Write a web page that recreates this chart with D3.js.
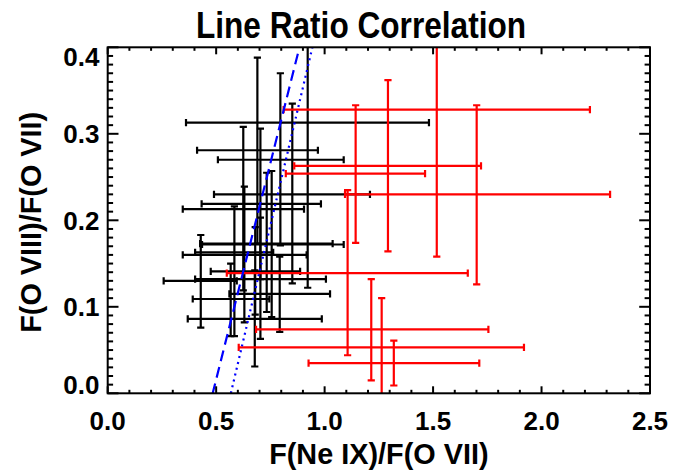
<!DOCTYPE html>
<html><head><meta charset="utf-8">
<script src="https://cdn.jsdelivr.net/npm/d3@7"></script>
<style>body{margin:0;background:#fff}svg{display:block}</style>
</head><body>
<svg id="c" width="689" height="472"></svg>
<script>
// ---------------- data ----------------
const chartTitle = "Line Ratio Correlation";
const xTitle = "F(Ne IX)/F(O VII)";
const yTitle = "F(O VIII)/F(O VII)";
const xTickValues = [0.0, 0.5, 1.0, 1.5, 2.0, 2.5];
const xTickLabels = ["0.0", "0.5", "1.0", "1.5", "2.0", "2.5"];
const yTickValues = [0.0, 0.1, 0.2, 0.3, 0.4];
const yTickLabels = ["0.0", "0.1", "0.2", "0.3", "0.4"];

// black sample: centre, lower and upper error limits
const blackX   = [0.922, 0.690, 0.796, 0.851, 0.704, 0.625, 0.733, 0.756, 0.584, 0.630, 0.680, 0.704, 0.429, 0.793, 0.567, 0.678];
const blackXLo = [0.361, 0.412, 0.508, 0.490, 0.433, 0.346, 0.426, 0.435, 0.403, 0.346, 0.475, 0.403, 0.258, 0.561, 0.392, 0.369];
const blackXHi = [1.481, 0.969, 1.088, 1.209, 0.983, 0.905, 1.037, 1.088, 0.763, 0.917, 0.887, 1.006, 0.595, 1.025, 0.745, 0.987];
const blackY   = [0.313, 0.281, 0.270, 0.230, 0.219, 0.213, 0.173, 0.172, 0.163, 0.160, 0.141, 0.132, 0.130, 0.115, 0.109, 0.086];
const blackYLo = [0.122, 0.173, 0.171, 0.127, 0.132, 0.119, 0.094, 0.088, 0.066, 0.082, 0.091, 0.063, 0.076, 0.071, 0.066, 0.031];
const blackYHi = [0.504, 0.388, 0.370, 0.335, 0.306, 0.308, 0.255, 0.257, 0.216, 0.239, 0.192, 0.203, 0.183, 0.158, 0.150, 0.142];

// red sample
const redX   = [1.517, 1.292, 1.143, 1.701, 1.106, 1.215, 1.263, 1.319];
const redXLo = [0.811, 0.860, 0.821, 1.094, 0.549, 0.684, 0.604, 0.926];
const redXHi = [2.223, 1.721, 1.463, 2.316, 1.660, 1.755, 1.919, 1.713];
const redY   = [0.328, 0.263, 0.254, 0.230, 0.139, 0.074, 0.053, 0.035];
const redYLo = [0.158, 0.164, 0.174, 0.126, 0.044, 0.015, -0.005, 0.009];
const redYHi = [0.497, 0.362, 0.333, 0.333, 0.235, 0.132, 0.110, 0.061];

// fitted relations y = slope * x + intercept
const dashedFit = {slope: 1.000, intercept: -0.484};
const dottedFit = {slope: 1.064, intercept: -0.604};

// ---------------- drawing ----------------
const W = 689, H = 472;
const L = 107.7, R = 650, T = 47.3, B = 393.3;
const svg = d3.select("#c");
const FONT = "'Liberation Sans', Arial, Helvetica, sans-serif";

const x = d3.scaleLinear().domain([0, 2.5]).range([L, R]);
const y = d3.scaleLinear().domain([0, 0.4]).range([B, T]);

svg.append("rect").attr("width", W).attr("height", H).attr("fill", "#fff");

svg.append("defs").append("clipPath").attr("id", "clip")
  .append("rect").attr("x", L).attr("y", T).attr("width", R - L).attr("height", B - T);

const plot = svg.append("g").attr("clip-path", "url(#clip)");

function errorBars(xs, xlo, xhi, ys, ylo, yhi, color) {
  const g = plot.append("g").attr("stroke", color).attr("stroke-width", 2.2).attr("fill", "none");
  const cap = 3.6;
  xs.forEach((xv, i) => {
    const cx = x(xv), cy = y(ys[i]);
    g.append("line").attr("x1", x(xlo[i])).attr("x2", x(xhi[i])).attr("y1", cy).attr("y2", cy);
    g.append("line").attr("x1", x(xlo[i])).attr("x2", x(xlo[i])).attr("y1", cy - cap).attr("y2", cy + cap);
    g.append("line").attr("x1", x(xhi[i])).attr("x2", x(xhi[i])).attr("y1", cy - cap).attr("y2", cy + cap);
    g.append("line").attr("x1", cx).attr("x2", cx).attr("y1", y(ylo[i])).attr("y2", y(yhi[i]));
    g.append("line").attr("x1", cx - cap).attr("x2", cx + cap).attr("y1", y(ylo[i])).attr("y2", y(ylo[i]));
    g.append("line").attr("x1", cx - cap).attr("x2", cx + cap).attr("y1", y(yhi[i])).attr("y2", y(yhi[i]));
  });
}
errorBars(blackX, blackXLo, blackXHi, blackY, blackYLo, blackYHi, "#000");
errorBars(redX, redXLo, redXHi, redY, redYLo, redYHi, "#ff0000");

function fitLine(fit, dash) {
  const y0 = -0.02, y1 = 0.42;
  const pts = [y0, y1].map(v => [(v - fit.intercept) / fit.slope, v]);
  plot.append("path")
    .attr("d", d3.line().x(d => x(d[0])).y(d => y(d[1]))(pts))
    .attr("stroke", "#0000ff").attr("stroke-width", 2.2).attr("fill", "none")
    .attr("stroke-dasharray", dash);
}
fitLine(dashedFit, "11,6");
fitLine(dottedFit, "2,4");

// axes box
const ax = svg.append("g").attr("stroke", "#000").attr("stroke-width", 2).attr("fill", "none");
ax.append("rect").attr("x", L).attr("y", T).attr("width", R - L).attr("height", B - T);

// ticks
const xMinor = d3.range(0, 2.5001, 0.1);
const yMinor = d3.range(0, 0.4001, 0.01);
const xMajLen = 7, xMinLen = 3.5, yMajLen = 10.8, yMinLen = 5.4;
xMinor.forEach(v => {
  const major = xTickValues.some(t => Math.abs(t - v) < 1e-6);
  const len = major ? xMajLen : xMinLen;
  ax.append("line").attr("x1", x(v)).attr("x2", x(v)).attr("y1", B).attr("y2", B - len);
  ax.append("line").attr("x1", x(v)).attr("x2", x(v)).attr("y1", T).attr("y2", T + len);
});
yMinor.forEach(v => {
  const major = yTickValues.some(t => Math.abs(t - v) < 1e-6);
  const len = major ? yMajLen : yMinLen;
  ax.append("line").attr("x1", L).attr("x2", L + len).attr("y1", y(v)).attr("y2", y(v));
  ax.append("line").attr("x1", R).attr("x2", R - len).attr("y1", y(v)).attr("y2", y(v));
});

// tick labels
const tl = svg.append("g").attr("font-family", FONT).attr("font-weight", "bold").attr("font-size", 26).attr("fill", "#000");
xTickValues.forEach((v, i) => {
  tl.append("text").attr("x", x(v)).attr("y", 430).attr("text-anchor", "middle").text(xTickLabels[i]);
});
yTickValues.forEach((v, i) => {
  const base = Math.max(66, Math.min(394, y(v) + 9.3));
  tl.append("text").attr("x", 99.5).attr("y", base).attr("text-anchor", "end").text(yTickLabels[i]);
});

// titles
svg.append("text").attr("transform", "translate(361,38) scale(1.02,1.22)")
  .attr("text-anchor", "middle").attr("font-family", FONT).attr("font-weight", "bold")
  .attr("font-size", 31).text(chartTitle);
svg.append("text").attr("transform", `translate(${(L + R) / 2},464) scale(1.03,1.08)`)
  .attr("text-anchor", "middle").attr("font-family", FONT).attr("font-weight", "bold")
  .attr("font-size", 28).text(xTitle);
svg.append("text").attr("transform", `translate(41,${(T + B) / 2 + 2}) rotate(-90) scale(1.03,1.08)`)
  .attr("text-anchor", "middle").attr("font-family", FONT).attr("font-weight", "bold")
  .attr("font-size", 28).text(yTitle);
</script>
</body></html>
